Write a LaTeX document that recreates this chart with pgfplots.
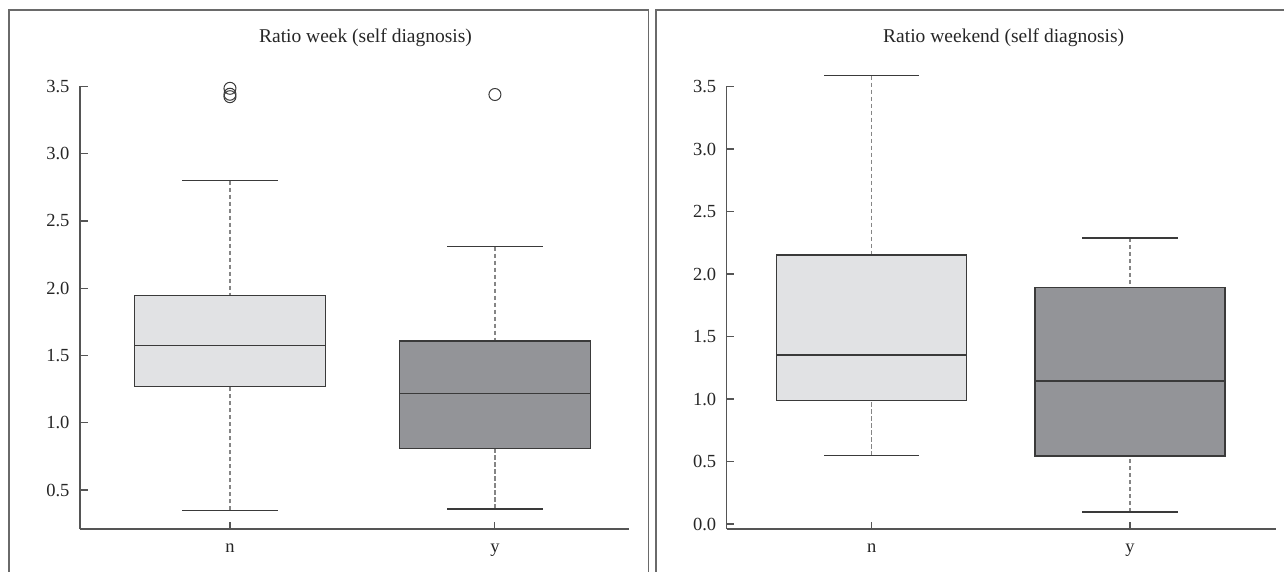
\documentclass[border=0pt]{standalone}
\usepackage{fontspec}
\setmainfont{Liberation Serif}
\usepackage{pgfplots}
\pgfplotsset{compat=1.18}
\usepgfplotslibrary{statistics}
\definecolor{lightbox}{HTML}{E1E2E4}
\definecolor{darkbox}{HTML}{939498}
\definecolor{edge}{HTML}{3A3A3A}
\definecolor{whisk}{HTML}{858585}
\definecolor{axcol}{HTML}{555555}
\definecolor{framecol}{HTML}{6A6A6A}
\pgfplotsset{
  mybox/.style={
    boxplot/draw/box/.code={%
      \filldraw[fill=#1, draw=edge, line width=1.2pt]
        (boxplot box cs:\pgfplotsboxplotvalue{lower quartile},0) rectangle
        (boxplot box cs:\pgfplotsboxplotvalue{upper quartile},1);},
    boxplot/draw/median/.code={%
      \draw[edge, line width=1.1pt]
        (boxplot box cs:\pgfplotsboxplotvalue{median},0) --
        (boxplot box cs:\pgfplotsboxplotvalue{median},1);},
    boxplot/draw/lower whisker/.code={%
      \draw[whisk, line width=1.2pt, dash pattern=on 4.5pt off 2.5pt]
        (boxplot box cs:\pgfplotsboxplotvalue{lower whisker},0.5) --
        (boxplot box cs:\pgfplotsboxplotvalue{lower quartile},0.5);
      \draw[edge, line width=1.2pt]
        (boxplot box cs:\pgfplotsboxplotvalue{lower whisker},0.25) --
        (boxplot box cs:\pgfplotsboxplotvalue{lower whisker},0.75);},
    boxplot/draw/upper whisker/.code={%
      \draw[whisk, line width=1.2pt, dash pattern=on 4.5pt off 2.5pt]
        (boxplot box cs:\pgfplotsboxplotvalue{upper whisker},0.5) --
        (boxplot box cs:\pgfplotsboxplotvalue{upper quartile},0.5);
      \draw[edge, line width=1.2pt]
        (boxplot box cs:\pgfplotsboxplotvalue{upper whisker},0.25) --
        (boxplot box cs:\pgfplotsboxplotvalue{upper whisker},0.75);},
  },
  mypanel/.style={
    scale only axis,
    anchor=south west,
    width=549pt,
    clip=false,
    boxplot/draw direction=y,
    axis x line*=bottom,
    axis y line*=left,
    y axis line style={draw=none},
    x axis line style={axcol, line width=1.1pt},
    tick align=inside,
    major tick length=7.5pt,
    tick style={axcol, line width=1.1pt},
    xtick={1,2},
    xticklabels={n,y},
    ytick={0,0.5,...,3.5},
    ticklabel style={font=\fontsize{18.5}{22}\selectfont, text=black!85},
    yticklabel style={xshift=-7pt, /pgf/number format/.cd, fixed, fixed zerofill, precision=1, assume math mode=true},
    xticklabel style={yshift=-11pt},
  }
}
\begin{document}
\begin{tikzpicture}
\path[use as bounding box] (0pt,0pt) rectangle (1284pt,571pt);
% panel frames
\draw[framecol, line width=1.3pt] (9pt,-5pt) -- (9pt,561pt) -- (648.5pt,561pt) -- (648.5pt,-5pt);
\draw[framecol, line width=1.3pt] (656pt,-5pt) -- (656pt,561pt) -- (1292pt,561pt);
% titles
\node[anchor=base, font=\fontsize{19.5}{23}\selectfont, text=black!85] at (365.5pt,528pt) {Ratio week (self diagnosis)};
\node[anchor=base, font=\fontsize{19.5}{23}\selectfont, text=black!85] at (1003.7pt,528pt) {Ratio weekend (self diagnosis)};

\begin{axis}[mypanel, at={(80pt,42pt)}, height=456pt,
  xmin=0.434, xmax=2.506, ymin=0.21, ymax=3.6]
\draw[axcol, line width=1.1pt] (axis cs:0.434,0.21) -- (axis cs:0.434,3.5);
\addplot[mybox=lightbox, boxplot prepared={draw position=1, box extend=0.72,
  lower whisker=0.349, lower quartile=1.268, median=1.573,
  upper quartile=1.945, upper whisker=2.80}] coordinates {};
\addplot[mybox=darkbox, boxplot prepared={draw position=2, box extend=0.72,
  lower whisker=0.359, lower quartile=0.807, median=1.214,
  upper quartile=1.608, upper whisker=2.31}] coordinates {};
\addplot[only marks, mark=o, mark size=6pt, mark options={draw=edge, line width=1pt}]
  coordinates {(1,3.486) (1,3.442) (1,3.424) (2,3.44)};
\end{axis}

\begin{axis}[mypanel, at={(726.7pt,42pt)}, height=470pt,
  xmin=0.439, xmax=2.564, ymin=-0.04, ymax=3.72]
\draw[axcol, line width=1.1pt] (axis cs:0.439,-0.04) -- (axis cs:0.439,3.5);
\addplot[mybox=lightbox, boxplot prepared={draw position=1, box extend=0.736,
  lower whisker=0.546, lower quartile=0.986, median=1.352,
  upper quartile=2.152, upper whisker=3.586}] coordinates {};
\addplot[mybox=darkbox, boxplot prepared={draw position=2, box extend=0.736,
  lower whisker=0.096, lower quartile=0.544, median=1.144,
  upper quartile=1.89, upper whisker=2.288}] coordinates {};
\end{axis}
\end{tikzpicture}
\end{document}
